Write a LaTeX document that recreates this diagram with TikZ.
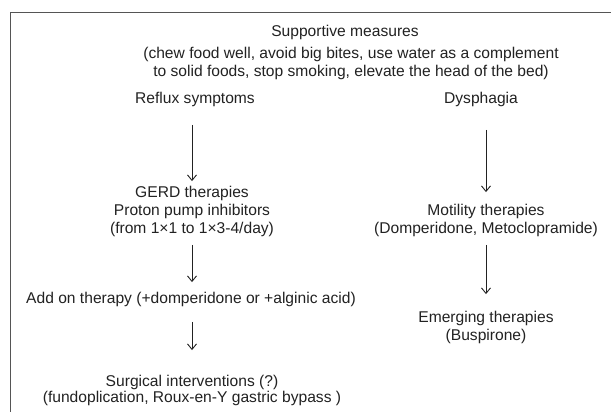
\documentclass[tikz,border=0pt]{standalone}
\usepackage{fontspec}
\setmainfont{Liberation Sans}
\usetikzlibrary{arrows.meta}
\definecolor{ink}{HTML}{222222}
\definecolor{frame}{HTML}{555555}
\tikzset{
  txt/.style={inner sep=0pt, outer sep=0pt, text=ink, align=center, font=\fontsize{15.6}{18.3}\selectfont},
  tight/.style={font=\fontsize{15.6}{16.5}\selectfont},
  arr/.style={draw=ink, line width=0.9pt, -{Straight Barb[length=5.5pt,width=9pt]}},
}
\begin{document}
\begin{tikzpicture}[x=1pt,y=-1pt]
\useasboundingbox (0,0) rectangle (611,412);
\clip (0,0) rectangle (611,412);
\fill[white] (0,0) rectangle (611,412);
\draw[frame, line width=1.1pt] (10.5,460) -- (10.5,12.5) -- (660,12.5);

% anchor=base of a multi-line node is the baseline of its last line
\node[txt, anchor=base] (sup) at (345,36.5) {Supportive measures};
\node[txt, anchor=base] (list) at (351,76.5) {(chew food well, avoid big bites, use water as a complement\\ to solid foods, stop smoking, elevate the head of the bed)};

\node[txt, anchor=base] (reflux) at (195,103) {Reflux symptoms};
\node[txt, anchor=base] (dys) at (481,103) {Dysphagia};

\node[txt, anchor=base] (gerd) at (192,233.6) {GERD therapies\\Proton pump inhibitors\\(from 1×1 to 1×3-4/day)};
\node[txt, anchor=base] (addon) at (191,303) {Add on therapy (+domperidone or +alginic acid)};
\node[txt, tight, anchor=base] (surg) at (192,402.5) {Surgical interventions (?)\\(fundoplication, Roux-en-Y gastric bypass )};

\node[txt, anchor=base] (mot) at (486,233.8) {Motility therapies\\(Domperidone, Metoclopramide)};
\node[txt, anchor=base] (emerg) at (486,340.3) {Emerging therapies\\(Buspirone)};

\draw[arr, shorten <=18.7pt, shorten >=4.6pt] (reflux.south -| gerd.north) -- (gerd.north);
\draw[arr, shorten <=8.1pt, shorten >=9.6pt] (gerd.south) -- (gerd.south |- addon.north);
\draw[arr, shorten <=15.7pt, shorten >=24.6pt] (addon.south -| surg.north) -- (surg.north);
\draw[arr, shorten <=23.7pt, shorten >=12.1pt] (dys.south -| mot.north) -- (mot.north);
\draw[arr, shorten <=7.9pt, shorten >=16.6pt] (mot.south) -- (emerg.north);
\end{tikzpicture}
\end{document}
